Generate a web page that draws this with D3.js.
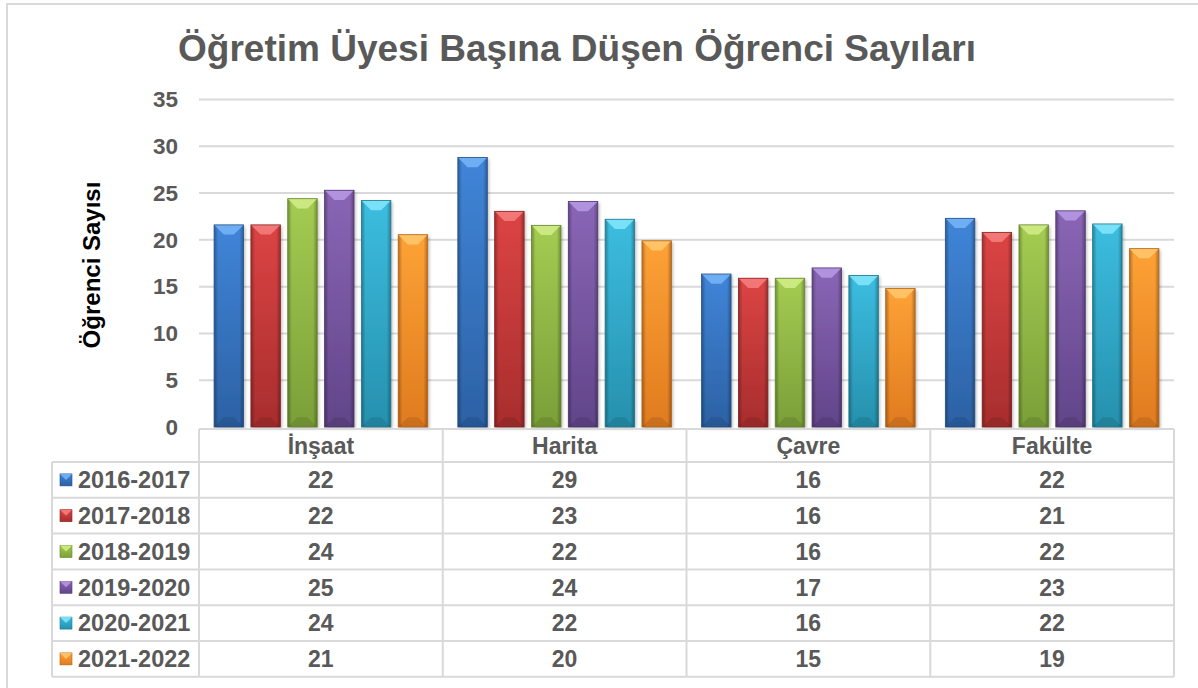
<!DOCTYPE html>
<html>
<head>
<meta charset="utf-8">
<script src="https://cdn.jsdelivr.net/npm/d3@7"></script>
<style>
    body { margin: 0; background: #fff; }
    svg text { font-family: "Liberation Sans", Arial, sans-serif; font-weight: bold; }
</style>
</head>
<body>
<div id="chart"></div>
<script>
// chart data
const categories = ["İnşaat", "Harita", "Çavre", "Fakülte"];
const seriesNames = ["2016-2017", "2017-2018", "2018-2019", "2019-2020", "2020-2021", "2021-2022"];
const values = [
    [21.6, 28.8, 16.35, 22.3],
    [21.6, 23.05, 15.9, 20.8],
    [24.4, 21.55, 15.9, 21.6],
    [25.3, 24.1, 17.0, 23.1],
    [24.2, 22.2, 16.2, 21.7],
    [20.55, 19.9, 14.8, 19.06]
];
const yTicks = [0, 5, 10, 15, 20, 25, 30, 35];

// colours per series: top, bottom, bevel light, outline
const colors = [
    {top: "#4085d8", bottom: "#2c61a4", light: "#74b2f5", line: "#24518a"},
    {top: "#dc4444", bottom: "#a82d2d", light: "#f47c7c", line: "#8c2424"},
    {top: "#a4cc52", bottom: "#7a9f38", light: "#d0ec86", line: "#66862e"},
    {top: "#8a66b6", bottom: "#614589", light: "#b597e2", line: "#503872"},
    {top: "#3cbde0", bottom: "#2690ad", light: "#80e4fa", line: "#1f7890"},
    {top: "#fda236", bottom: "#e07b1f", light: "#ffc76a", line: "#b8631a"}
];

const width = 1198, height = 688;
const plot = {left: 199, right: 1174, top: 99.5, bottom: 427};
const table = {left: 52, headTop: 429, headBottom: 462, rowH: 35.8};
const grey = "#595959", lineCol = "#d9d9d9";

const svg = d3.select("#chart").append("svg")
    .attr("width", width)
    .attr("height", height);

const defs = svg.append("defs");

// soft shadow under bars
let shadow = defs.append("filter").attr("id", "shadow")
    .attr("x", "-30%").attr("y", "-10%").attr("width", "160%").attr("height", "130%");
shadow.append("feDropShadow")
    .attr("dx", 1.5).attr("dy", 1.5).attr("stdDeviation", 1.8)
    .attr("flood-color", "#000").attr("flood-opacity", 0.28);

colors.forEach((c, i) => {
    let g = defs.append("linearGradient").attr("id", "grad" + i)
        .attr("x1", "0%").attr("y1", "0%").attr("x2", "0%").attr("y2", "100%");
    g.append("stop").attr("offset", "0%").attr("stop-color", c.top);
    g.append("stop").attr("offset", "100%").attr("stop-color", c.bottom);
});

// darker side edges
let side = defs.append("linearGradient").attr("id", "sideShade")
    .attr("x1", "0%").attr("y1", "0%").attr("x2", "100%").attr("y2", "0%");
[[0, 0.3], [0.14, 0], [0.86, 0], [1, 0.3]].forEach(s => {
    side.append("stop").attr("offset", s[0] * 100 + "%")
        .attr("stop-color", "#000").attr("stop-opacity", s[1]);
});

// outer frame (only top and left visible)
svg.append("path")
    .attr("d", `M7,${height} L7,4 L${width},4`)
    .attr("fill", "none")
    .attr("stroke", lineCol)
    .attr("stroke-width", 2);

// title
svg.append("text")
    .attr("x", 577).attr("y", 61)
    .attr("text-anchor", "middle")
    .attr("fill", grey)
    .attr("font-size", 37)
    .text("Öğretim Üyesi Başına Düşen Öğrenci Sayıları");

// scales
let x0 = d3.scaleBand().domain(categories).range([plot.left, plot.right]).padding(0);
let x1 = d3.scaleBand().domain(seriesNames).range([0, x0.bandwidth()])
    .paddingInner(0.2).paddingOuter(0.41);
let y = d3.scaleLinear().domain([0, 35]).range([plot.bottom, plot.top]);

// gridlines
svg.append("g").selectAll("line")
    .data(yTicks.filter(d => d > 0))
    .enter().append("line")
    .attr("x1", plot.left).attr("x2", plot.right)
    .attr("y1", d => y(d)).attr("y2", d => y(d))
    .attr("stroke", lineCol).attr("stroke-width", 2);

// y axis labels
let yAxis = d3.axisLeft(y).tickValues(yTicks).tickSize(0).tickPadding(0);
let yg = svg.append("g")
    .attr("transform", `translate(178,0)`)
    .call(yAxis);
yg.select(".domain").remove();
yg.selectAll("text")
    .attr("fill", grey)
    .attr("font-size", 22.5)
    .attr("font-family", null);

svg.append("text")
    .attr("transform", `translate(100,265) rotate(-90)`)
    .attr("text-anchor", "middle")
    .attr("fill", "#000")
    .attr("font-size", 24)
    .text("Öğrenci Sayısı");

// bars
let barData = [];
seriesNames.forEach((s, i) => {
    categories.forEach((c, j) => {
        barData.push({series: s, si: i, cat: c, value: values[i][j]});
    });
});

let bars = svg.append("g").selectAll(".bar")
    .data(barData)
    .enter().append("g")
    .attr("class", "bar")
    .attr("transform", d => `translate(${x0(d.cat) + x1(d.series)},${y(d.value)})`);

let bw = x1.bandwidth();
let bevel = bw * 0.33;

bars.append("rect")
    .attr("width", bw)
    .attr("height", d => y(0) - y(d.value))
    .attr("fill", d => `url(#grad${d.si})`)
    .attr("filter", "url(#shadow)");

bars.append("rect")
    .attr("width", bw)
    .attr("height", d => y(0) - y(d.value))
    .attr("fill", "url(#sideShade)");

// top bevel
bars.append("polygon")
    .attr("points", `0,0 ${bw},0 ${bw - bevel},${bevel} ${bevel},${bevel}`)
    .attr("fill", d => colors[d.si].light)
    .attr("opacity", 0.9);

// bottom bevel
bars.append("polygon")
    .attr("points", d => {
        let h = y(0) - y(d.value);
        return `0,${h} ${bw},${h} ${bw - bevel},${h - bevel} ${bevel},${h - bevel}`;
    })
    .attr("fill", "#000")
    .attr("opacity", 0.1);

bars.append("rect")
    .attr("width", bw)
    .attr("height", d => y(0) - y(d.value))
    .attr("fill", "none")
    .attr("stroke", d => colors[d.si].line)
    .attr("stroke-width", 0.8);

// data table
let tg = svg.append("g");
let tableBottom = table.headBottom + table.rowH * seriesNames.length;

// horizontal lines
tg.append("line")
    .attr("x1", plot.left).attr("x2", plot.right)
    .attr("y1", table.headTop).attr("y2", table.headTop)
    .attr("stroke", lineCol).attr("stroke-width", 2);
d3.range(seriesNames.length + 1).forEach(r => {
    let yy = table.headBottom + r * table.rowH;
    tg.append("line")
        .attr("x1", table.left).attr("x2", plot.right)
        .attr("y1", yy).attr("y2", yy)
        .attr("stroke", lineCol).attr("stroke-width", 2);
});

// vertical lines
tg.append("line")
    .attr("x1", table.left).attr("x2", table.left)
    .attr("y1", table.headBottom).attr("y2", tableBottom)
    .attr("stroke", lineCol).attr("stroke-width", 2);
categories.forEach(c => {
    tg.append("line")
        .attr("x1", x0(c)).attr("x2", x0(c))
        .attr("y1", table.headTop).attr("y2", tableBottom)
        .attr("stroke", lineCol).attr("stroke-width", 2);
});
tg.append("line")
    .attr("x1", plot.right).attr("x2", plot.right)
    .attr("y1", table.headTop).attr("y2", tableBottom)
    .attr("stroke", lineCol).attr("stroke-width", 2);

// category header
tg.selectAll(".cat")
    .data(categories)
    .enter().append("text")
    .attr("class", "cat")
    .attr("x", d => x0(d) + x0.bandwidth() / 2)
    .attr("y", (table.headTop + table.headBottom) / 2 + 8)
    .attr("text-anchor", "middle")
    .attr("fill", grey)
    .attr("font-size", 23)
    .text(d => d);

// rows
seriesNames.forEach((s, i) => {
    let cy = table.headBottom + table.rowH * (i + 0.5);
    let c = colors[i];

    // legend key
    let k = tg.append("g").attr("transform", `translate(60,${cy - 6})`);
    k.append("rect").attr("width", 12).attr("height", 12)
        .attr("fill", `url(#grad${i})`)
        .attr("stroke", c.line).attr("stroke-width", 0.6);
    k.append("polygon").attr("points", "0,0 12,0 6,6")
        .attr("fill", c.light).attr("opacity", 0.9);

    tg.append("text")
        .attr("x", 78).attr("y", cy + 8.2)
        .attr("fill", grey)
        .attr("font-size", 23.5)
        .text(s);

    categories.forEach((cat, j) => {
        tg.append("text")
            .attr("x", x0(cat) + x0.bandwidth() / 2)
            .attr("y", cy + 8.2)
            .attr("text-anchor", "middle")
            .attr("fill", grey)
            .attr("font-size", 23)
            .text(Math.round(values[i][j]));
    });
});
</script>
</body>
</html>
